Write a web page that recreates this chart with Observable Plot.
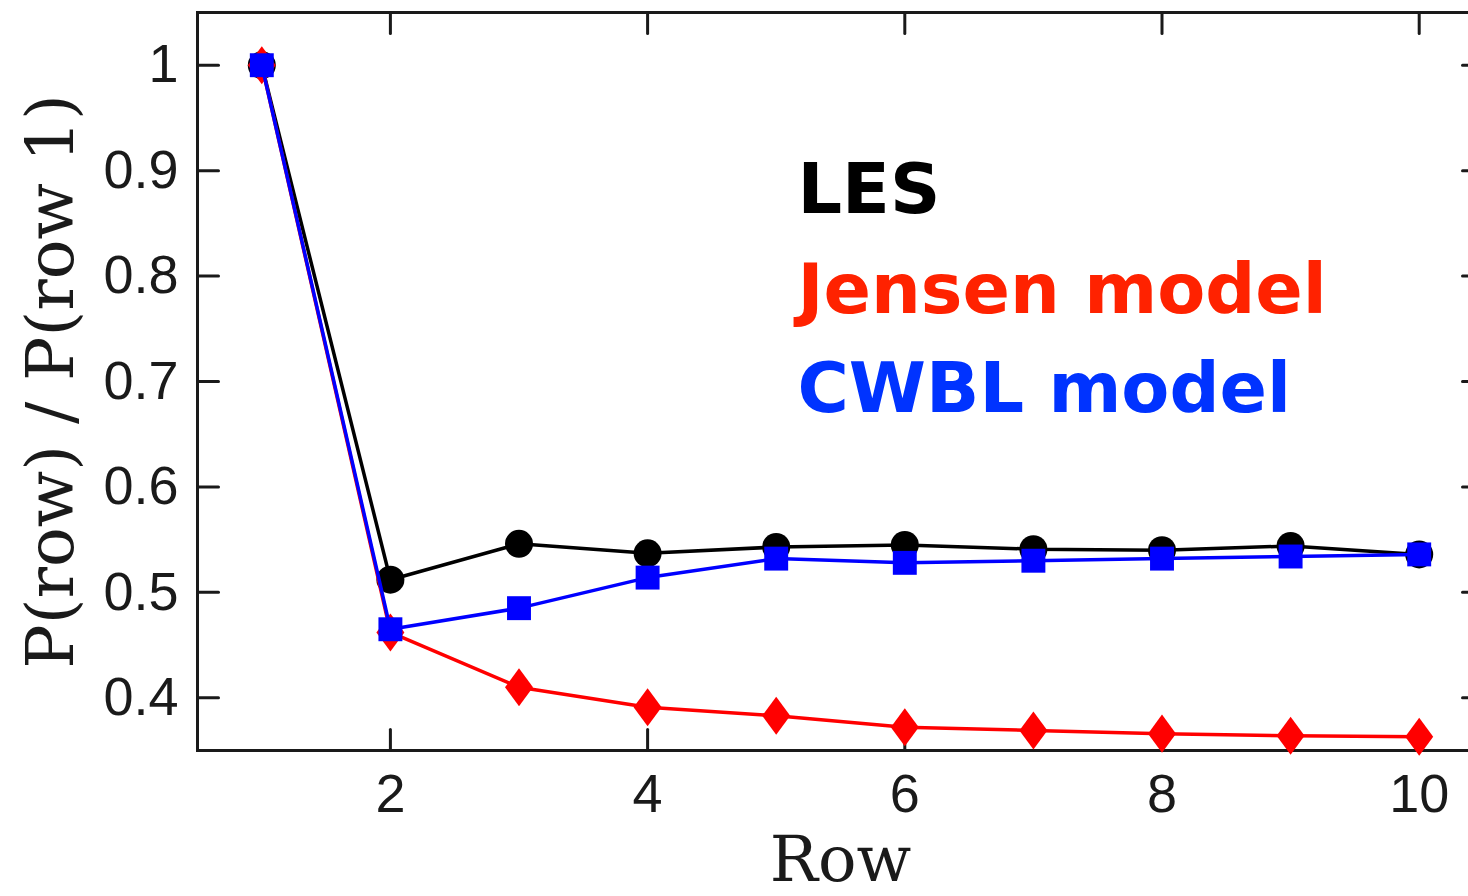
<!DOCTYPE html>
<html>
<head>
<meta charset="utf-8">
<script src="https://cdn.jsdelivr.net/npm/d3@7"></script>
<script src="https://cdn.jsdelivr.net/npm/@observablehq/plot@0.6"></script>
<style>
  html, body { margin: 0; padding: 0; background: #fff; overflow: hidden; }
</style>
</head>
<body>
<div id="chart"></div>
<script>
// ---- data ----
const rows = [1, 2, 3, 4, 5, 6, 7, 8, 9, 10];
const les = [1.0, 0.512, 0.546, 0.537, 0.543, 0.545, 0.541, 0.540, 0.544, 0.536];
const jensen = [1.0, 0.462, 0.410, 0.391, 0.383, 0.372, 0.369, 0.366, 0.364, 0.363];
const cwbl = [1.0, 0.465, 0.485, 0.514, 0.532, 0.528, 0.530, 0.532, 0.534, 0.536];

const xTicks = [2, 4, 6, 8, 10];
const xTickLabels = ["2", "4", "6", "8", "10"];
const yTicks = [0.4, 0.5, 0.6, 0.7, 0.8, 0.9, 1.0];
const yTickLabels = ["0.4", "0.5", "0.6", "0.7", "0.8", "0.9", "1"];

const xLabel = "Row";
const yLabel = "P(row) / P(row 1)";
const legendLabels = ["LES", "Jensen model", "CWBL model"];
const legendColors = ["#000000", "#ff2200", "#0033ff"];

// ---- build tables ----
const lesData = rows.map((r, i) => ({row: r, v: les[i]}));
const jensenData = rows.map((r, i) => ({row: r, v: jensen[i]}));
const cwblData = rows.map((r, i) => ({row: r, v: cwbl[i]}));

// inward tick shape for vectors
const tickShape = {draw(context, l) { context.moveTo(0, 0); context.lineTo(0, -l); }};
// elongated diamond symbol
const tallDiamond = {
  draw(context, size) {
    const r = Math.sqrt(size / Math.PI);
    const w = r, h = r * 1.36;
    context.moveTo(0, -h);
    context.lineTo(w, 0);
    context.lineTo(0, h);
    context.lineTo(-w, 0);
    context.closePath();
  }
};

const axisColor = "#1a1a1a";
const tickFont = "'Liberation Sans', Arial, sans-serif";
const labelFont = "'DejaVu Serif', serif";
const legendFont = "'DejaVu Sans', Verdana, sans-serif";

const chart = Plot.plot({
  width: 1468,
  height: 896,
  marginLeft: 197,
  marginRight: -15,
  marginTop: 12,
  marginBottom: 146,
  style: {background: "#fff", fontFamily: tickFont},
  x: {domain: [0.5, 10.5]},
  y: {domain: [0.35, 1.05]},
  marks: [
    Plot.frame({stroke: axisColor, strokeWidth: 3}),
    // inward ticks on all four sides
    Plot.vector(xTicks, {x: d => d, frameAnchor: "bottom", anchor: "start", length: 21, rotate: 0, shape: tickShape, stroke: axisColor, strokeWidth: 3}),
    Plot.vector(xTicks, {x: d => d, frameAnchor: "top", anchor: "start", length: 21, rotate: 180, shape: tickShape, stroke: axisColor, strokeWidth: 3}),
    Plot.vector(yTicks, {y: d => d, frameAnchor: "left", anchor: "start", length: 21, rotate: 90, shape: tickShape, stroke: axisColor, strokeWidth: 3}),
    Plot.vector(yTicks, {y: d => d, frameAnchor: "right", anchor: "start", length: 21, rotate: -90, shape: tickShape, stroke: axisColor, strokeWidth: 3}),
    // tick labels
    Plot.axisX(xTicks, {anchor: "bottom", tickSize: 0, tickPadding: 23, fontSize: 54, fill: axisColor, label: null,
      tickFormat: d => xTickLabels[xTicks.indexOf(d)]}),
    Plot.axisY(yTicks, {anchor: "left", tickSize: 0, tickPadding: 19, fontSize: 54, fill: axisColor, label: null,
      tickFormat: d => yTickLabels[yTicks.indexOf(d)]}),
    // axis titles
    Plot.text([xLabel], {text: d => d, frameAnchor: "bottom", dy: 110, lineAnchor: "middle", textAnchor: "middle",
      fontFamily: labelFont, fontSize: 64, fill: axisColor}),
    Plot.text([yLabel], {text: d => d, frameAnchor: "left", dx: -146, rotate: -90, lineAnchor: "middle", textAnchor: "middle",
      fontFamily: labelFont, fontSize: 66, fill: axisColor}),
    // series: LES
    Plot.line(lesData, {x: "row", y: "v", stroke: "#000", strokeWidth: 3.5}),
    Plot.dot(lesData, {x: "row", y: "v", r: 14, fill: "#000", symbol: "circle"}),
    // series: Jensen
    Plot.line(jensenData, {x: "row", y: "v", stroke: "#ff0000", strokeWidth: 3.5}),
    Plot.dot(jensenData, {x: "row", y: "v", r: 14, fill: "#ff0000", symbol: tallDiamond}),
    // series: CWBL
    Plot.line(cwblData, {x: "row", y: "v", stroke: "#0000ff", strokeWidth: 3.5}),
    Plot.dot(cwblData, {x: "row", y: "v", r: 13.5, fill: "#0000ff", symbol: "square"}),
    // legend text inside the plot
    Plot.text([legendLabels[0]], {text: d => d, frameAnchor: "top-left", dx: 600, dy: 178, textAnchor: "start", lineAnchor: "middle",
      fontFamily: legendFont, fontWeight: "bold", fontSize: 70, fill: legendColors[0]}),
    Plot.text([legendLabels[1]], {text: d => d, frameAnchor: "top-left", dx: 600, dy: 278, textAnchor: "start", lineAnchor: "middle",
      fontFamily: legendFont, fontWeight: "bold", fontSize: 70, fill: legendColors[1]}),
    Plot.text([legendLabels[2]], {text: d => d, frameAnchor: "top-left", dx: 600, dy: 377, textAnchor: "start", lineAnchor: "middle",
      fontFamily: legendFont, fontWeight: "bold", fontSize: 70, fill: legendColors[2]})
  ]
});
document.getElementById("chart").appendChild(chart);
</script>
</body>
</html>
